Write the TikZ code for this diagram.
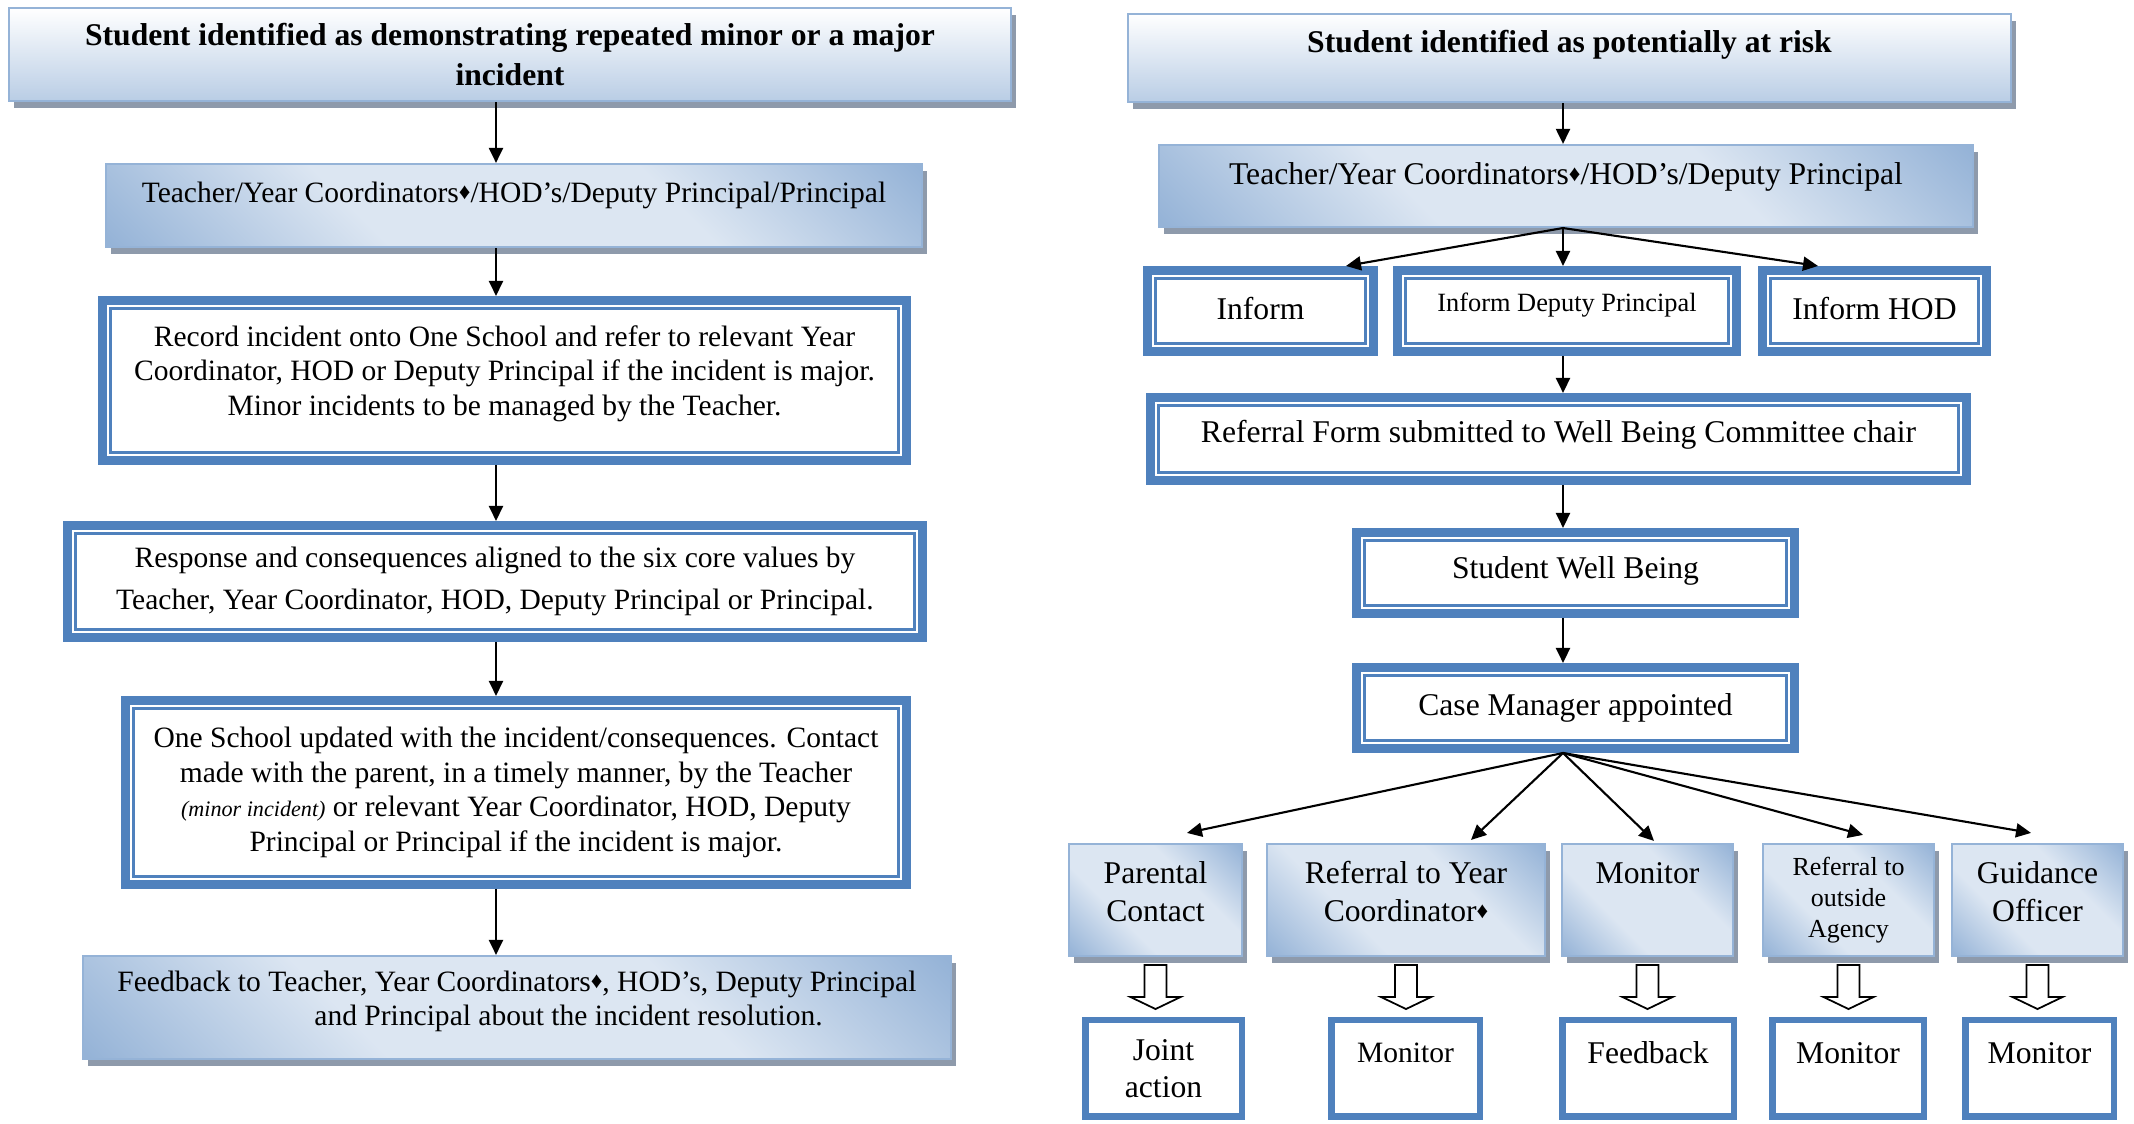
\documentclass[tikz,border=0pt]{standalone}
\usepackage{fontspec}
\setmainfont{Liberation Serif}
\usetikzlibrary{arrows.meta,shadows,calc}

\definecolor{frameblue}{HTML}{4F81BD}
\definecolor{lightblue}{HTML}{DCE6F2}
\definecolor{midblue}{HTML}{95B3D7}
\definecolor{paleblue}{HTML}{B9CDE5}
\definecolor{shadegray}{HTML}{8E9AAB}

\pgfdeclareverticalshading{diagfill}{100bp}{color(0bp)=(midblue); color(15bp)=(midblue);
  color(37bp)=(lightblue); color(63bp)=(lightblue); color(85bp)=(midblue); color(100bp)=(midblue)}

\newcommand{\dmd}{{\fontsize{6.5}{7}\selectfont\raisebox{.3ex}{♦}}}
\newcommand{\lowrule}[1]{\vrule width 0pt height 0pt depth #1}

\tikzset{
  lfont/.style={font=\fontsize{8.4}{9.8}\selectfont},
  rfont/.style={font=\fontsize{9}{10.6}\selectfont},
  hfont/.style={font=\fontsize{9}{11.4}\selectfont\bfseries},
  boxshadow/.style={drop shadow={shadow xshift=0.05cm, shadow yshift=-0.07cm, fill=shadegray, opacity=1}},
  gradtop/.style={draw=midblue, line width=0.6pt, top color=white, bottom color=paleblue,
    boxshadow, align=center},
  graddiag/.style={draw=midblue, line width=0.6pt, shading=diagfill, shading angle=-45,
    boxshadow, align=center},
  dbox/.style={draw=frameblue, line width=0.09cm, fill=white, align=center,
    path picture={\draw[frameblue, line width=0.025cm]
      ([shift={(0.08,0.08)}]path picture bounding box.south west) rectangle
      ([shift={(-0.08,-0.08)}]path picture bounding box.north east);}},
  sbox/.style={draw=frameblue, line width=0.065cm, fill=white, align=center},
  arr/.style={-{Triangle[length=0.15cm,width=0.14cm]}, line width=0.6pt},
  hollow/.style={draw=black, line width=0.5pt, fill=white}
}

\begin{document}
\begin{tikzpicture}
  \useasboundingbox (0,0) rectangle (21.34,11.24);

  % left column
  \node[gradtop, hfont, minimum width=10.02cm, minimum height=0.93cm] (L1) at (5.10,10.695)
    {Student identified as demonstrating repeated minor or a major\\incident};
  \node[graddiag, lfont, minimum width=8.16cm, minimum height=0.83cm, text depth=0.27cm] (L2) at (5.14,9.185)
    {Teacher/Year Coordinators\dmd/HOD’s/Deputy Principal/Principal};
  \node[dbox, lfont, minimum width=8.04cm, minimum height=1.60cm] (L3) at (5.045,7.435)
    {Record incident onto One School and refer to relevant Year\\
     Coordinator, HOD or Deputy Principal if the incident is major.\\
     Minor incidents to be managed by the Teacher.\lowrule{0.2cm}};
  \node[dbox, font=\fontsize{8.4}{12}\selectfont, minimum width=8.55cm, minimum height=1.12cm] (L4) at (4.95,5.425)
    {Response and consequences aligned to the six core values by\\
     Teacher, Year Coordinator, HOD, Deputy Principal or Principal.};
  \node[dbox, lfont, minimum width=7.81cm, minimum height=1.84cm] (L5) at (5.16,3.315)
    {One School updated with the incident/consequences. Contact\\
     made with the parent, in a timely manner, by the Teacher\\
     {\fontsize{6.3}{7}\selectfont\itshape (minor incident)} or relevant Year Coordinator, HOD, Deputy\\
     Principal or Principal if the incident is major.};
  \node[graddiag, lfont, align=left, minimum width=8.68cm, minimum height=1.03cm] (L6) at (5.17,1.165)
    {Feedback to Teacher, Year Coordinators\dmd, HOD’s, Deputy Principal\\
     \hspace*{1.97cm}and Principal about the incident resolution.\lowrule{0.18cm}};

  \coordinate (lx) at (4.96,0);
  \foreach \a/\b in {L1/L2,L2/L3,L3/L4,L4/L5,L5/L6}
    \draw[arr] (\a.south -| lx) -- (\b.north -| lx);

  % right column
  \node[gradtop, hfont, minimum width=8.83cm, minimum height=0.88cm, text depth=0.33cm] (R1) at (15.695,10.66)
    {Student identified as potentially at risk};
  \node[graddiag, rfont, minimum width=8.14cm, minimum height=0.82cm, text depth=0.25cm] (R2) at (15.66,9.38)
    {Teacher/Year Coordinators\dmd/HOD’s/Deputy Principal};
  \node[dbox, rfont, minimum width=2.26cm, minimum height=0.81cm, text depth=0.06cm] (inf) at (12.605,8.13) {Inform};
  \node[dbox, font=\fontsize{7.5}{9}\selectfont, minimum width=3.39cm, minimum height=0.81cm, text depth=0.17cm] (idp) at (15.67,8.13)
    {Inform Deputy Principal};
  \node[dbox, rfont, minimum width=2.24cm, minimum height=0.81cm, text depth=0.06cm] (ihod) at (18.745,8.13) {Inform HOD};
  \node[dbox, rfont, minimum width=8.16cm, minimum height=0.83cm, text depth=0.15cm] (rf) at (15.585,6.85)
    {Referral Form submitted to Well Being Committee chair};
  \node[dbox, rfont, minimum width=4.38cm, minimum height=0.81cm, text depth=0.11cm] (swb) at (15.755,5.51)
    {Student Well Being};
  \node[dbox, rfont, minimum width=4.38cm, minimum height=0.81cm] (cm) at (15.755,4.16)
    {Case Manager appointed};

  \node[graddiag, rfont, minimum width=1.73cm, minimum height=1.12cm] (pc) at (11.555,2.24)
    {Parental\\Contact\lowrule{0.17cm}};
  \node[graddiag, rfont, minimum width=2.78cm, minimum height=1.12cm] (ry) at (14.06,2.24)
    {Referral to Year\\Coordinator\dmd\lowrule{0.17cm}};
  \node[graddiag, rfont, minimum width=1.71cm, minimum height=1.12cm, text depth=0.54cm] (mo) at (16.475,2.24)
    {Monitor};
  \node[graddiag, font=\fontsize{7.4}{8.8}\selectfont, minimum width=1.71cm, minimum height=1.12cm] (oa) at (18.485,2.24)
    {Referral to\\outside\\Agency};
  \node[graddiag, rfont, minimum width=1.71cm, minimum height=1.12cm] (go) at (20.375,2.24)
    {Guidance\\Officer\lowrule{0.17cm}};

  \node[sbox, rfont, minimum width=1.565cm, minimum height=0.965cm] (ja) at (11.635,0.555) {Joint\\action};
  \node[sbox, lfont, minimum width=1.485cm, minimum height=0.965cm, text depth=0.32cm] (m1) at (14.055,0.555) {Monitor};
  \node[sbox, rfont, minimum width=1.715cm, minimum height=0.965cm, text depth=0.31cm] (fb) at (16.48,0.555) {Feedback};
  \node[sbox, rfont, minimum width=1.515cm, minimum height=0.965cm, text depth=0.31cm] (m2) at (18.48,0.555) {Monitor};
  \node[sbox, rfont, minimum width=1.485cm, minimum height=0.965cm, text depth=0.31cm] (m3) at (20.395,0.555) {Monitor};

  \coordinate (rx) at (15.63,0);
  \draw[arr] (R1.south -| rx) -- (R2.north -| rx);
  \draw[arr] (R2.south -| rx) -- ([xshift=0.855cm]inf.north);
  \draw[arr] (R2.south -| rx) -- (idp.north -| rx);
  \draw[arr] (R2.south -| rx) -- ([xshift=-0.565cm]ihod.north);
  \draw[arr] (idp.south -| rx) -- (rf.north -| rx);
  \draw[arr] (rf.south -| rx) -- (swb.north -| rx);
  \draw[arr] (swb.south -| rx) -- (cm.north -| rx);
  \foreach \b/\dx/\dy in {pc/0.315/0.10, ry/0.65/0.03, mo/0.065/0.02, oa/0.145/0.08, go/-0.065/0.10}
    \draw[arr] (cm.south -| rx) -- ([shift={(\dx,\dy)}]\b.north);

  \foreach \a in {pc,ry,mo,oa,go}
    \draw[hollow] ([shift={(-0.11,-0.08)}]\a.south) -- ++(0,-0.32) -- ++(-0.14,0) -- ++(0.25,-0.12)
      -- ++(0.25,0.12) -- ++(-0.14,0) -- ++(0,0.32) -- cycle;
\end{tikzpicture}
\end{document}
